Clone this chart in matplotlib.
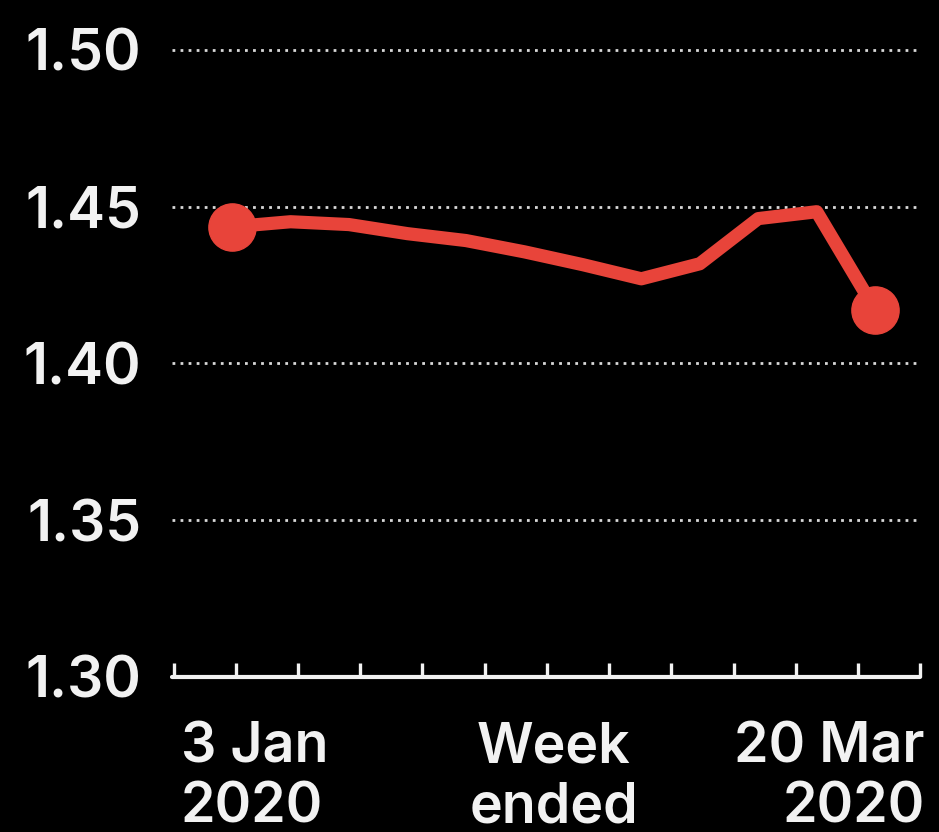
import matplotlib.pyplot as plt
import numpy as np

plt.rcParams['font.family'] = ['Inter', 'DejaVu Sans']

# weekly values, 3 Jan 2020 .. 20 Mar 2020
weeks = np.arange(12)
values = [1.4436, 1.4452, 1.4443, 1.4414, 1.4392, 1.4356,
          1.4315, 1.4270, 1.4318, 1.4462, 1.4484, 1.4171]
y_ticks = [1.30, 1.35, 1.40, 1.45, 1.50]
y_labels = ["1.30", "1.35", "1.40", "1.45", "1.50"]
x_labels = ["3 Jan\n2020", "Week\nended", "20 Mar\n2020"]

red = "#e8443a"
fg = "#f2f2f2"

fig = plt.figure(figsize=(9.39, 8.32), dpi=100, facecolor="black")
ax = fig.add_axes([0.183, 0.1863, 0.797, 0.7537])
ax.set_facecolor("black")

# gridlines (not on the baseline)
for y in y_ticks[1:]:
    ax.axhline(y, color="#d8d8d8", lw=2.0, linestyle=(0, (1.0, 1.9)),
               clip_on=False, zorder=1)

ax.plot(weeks, values, color=red, lw=9.5, solid_joinstyle="round",
        solid_capstyle="round", zorder=3)
ax.plot([weeks[0], weeks[-1]], [values[0], values[-1]], "o", color=red,
        markersize=34, zorder=4, clip_on=False)

ax.set_xlim(-1.03, 11.77)
ax.set_ylim(1.30, 1.50)

for s in ["top", "right", "left"]:
    ax.spines[s].set_visible(False)
ax.spines["bottom"].set_color(fg)
ax.spines["bottom"].set_linewidth(3.0)
ax.spines["bottom"].set_capstyle("round")

ax.set_xticks(np.linspace(-1.0, 11.77, 13))
ax.set_xticklabels([])
ax.tick_params(axis="x", direction="in", length=10, width=2.4, color=fg)

ax.set_yticks(y_ticks)
ax.set_yticklabels(y_labels)
ax.tick_params(axis="y", length=0, pad=22, labelsize=41, labelcolor=fg)
for lab in ax.get_yticklabels():
    lab.set_fontweight("semibold")

# x labels under the axis
kw = dict(xycoords="data", textcoords="offset points", va="top",
          fontsize=40, fontweight="semibold", color=fg, linespacing=1.2,
          annotation_clip=False)
ax.annotate(x_labels[0], xy=(-0.88, 1.30), xytext=(0, -32), ha="left", **kw)
ax.annotate(x_labels[1], xy=(5.5, 1.30), xytext=(0, -32), ha="center", **kw)
ax.annotate(x_labels[2], xy=(11.85, 1.30), xytext=(0, -32), ha="right",
            multialignment="right", **kw)

fig.savefig("out.png", dpi=100, facecolor="black")
